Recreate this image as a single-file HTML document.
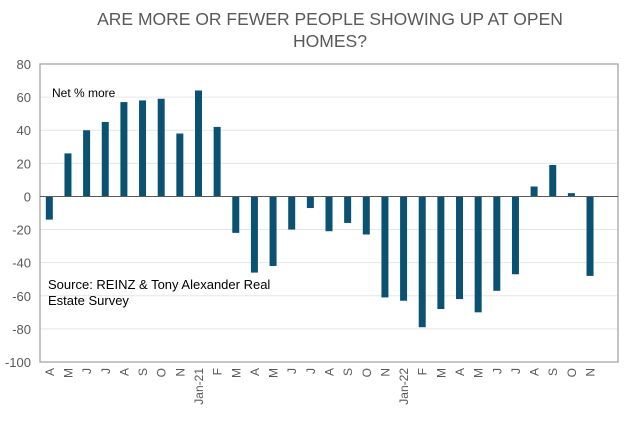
<!DOCTYPE html>
<html><head><meta charset="utf-8"><style>
body{margin:0;background:#fff;width:626px;height:422px;overflow:hidden;font-family:"Liberation Sans",sans-serif}
</style></head><body>
<svg width="626" height="422">
<text x="330" y="25" text-anchor="middle" font-size="17.5" fill="#595959">ARE MORE OR FEWER PEOPLE SHOWING UP AT OPEN</text>
<text x="330" y="47" text-anchor="middle" font-size="17.5" fill="#595959">HOMES?</text>
<g id="grid"></g>
<g id="bars"></g>
<g id="ylab"></g>
<g id="xlab"></g>
<rect x="40" y="64" width="578" height="298" fill="none" stroke="#a6a6a6" stroke-width="1.3"/>
<line id="zero" stroke="#595959" stroke-width="1"/>
<text x="52" y="97" font-size="12" fill="#000">Net % more</text>
<text x="48" y="289" font-size="13" fill="#000">Source: REINZ &amp; Tony Alexander  Real</text>
<text x="48" y="305" font-size="13" fill="#000">Estate Survey</text>
</svg>
<script>
const categories=["A","M","J","J","A","S","O","N","Jan-21","F","M","A","M","J","J","A","S","O","N","Jan-22","F","M","A","M","J","J","A","S","O","N"];
const values=[-14,26,40,45,57,58,59,38,64,42,-22,-46,-42,-20,-7,-21,-16,-23,-61,-63,-79,-68,-62,-70,-57,-47,6,19,2,-48];
const yTicks=[80,60,40,20,0,-20,-40,-60,-80,-100];
const NS="http://www.w3.org/2000/svg";
const L=40,R=618,T=64,B=362,yMin=-100,yMax=80,nSlots=31;
const band=(R-L)/nSlots;
const y=v=>T+(yMax-v)/(yMax-yMin)*(B-T);
const x=i=>L+band*(i+0.5);
function mk(t,a){const e=document.createElementNS(NS,t);for(const k in a)e.setAttribute(k,a[k]);return e;}
const grid=document.getElementById('grid'),ylab=document.getElementById('ylab'),bars=document.getElementById('bars'),xlab=document.getElementById('xlab');
yTicks.forEach(v=>{
 const g=mk('line',{x1:L,x2:R,y1:y(v),y2:y(v),stroke:'#e6e6e6','stroke-width':1});
 
 
 grid.appendChild(g);
 const t=mk('text',{x:31,y:y(v)+5,'text-anchor':'end','font-size':13,fill:'#595959'});
 t.textContent=v;
 
 
 ylab.appendChild(t);
});
const z=document.getElementById('zero');
z.setAttribute('x1',L);z.setAttribute('x2',R);z.setAttribute('y1',y(0));z.setAttribute('y2',y(0));
values.forEach((v,i)=>{
 const r=mk('rect',{x:x(i)-3.5,y:Math.min(y(v),y(0)),width:7,height:Math.abs(y(v)-y(0)),fill:'#0b5272'});
 
 
 bars.appendChild(r);
});
categories.forEach((c,i)=>{
 const t=mk('text',{transform:`translate(${x(i)+4.5},${B+6}) rotate(-90)`,'text-anchor':'end','font-size':12,fill:'#595959'});
 t.textContent=c;
 
 
 xlab.appendChild(t);
});
</script>
</body></html>
